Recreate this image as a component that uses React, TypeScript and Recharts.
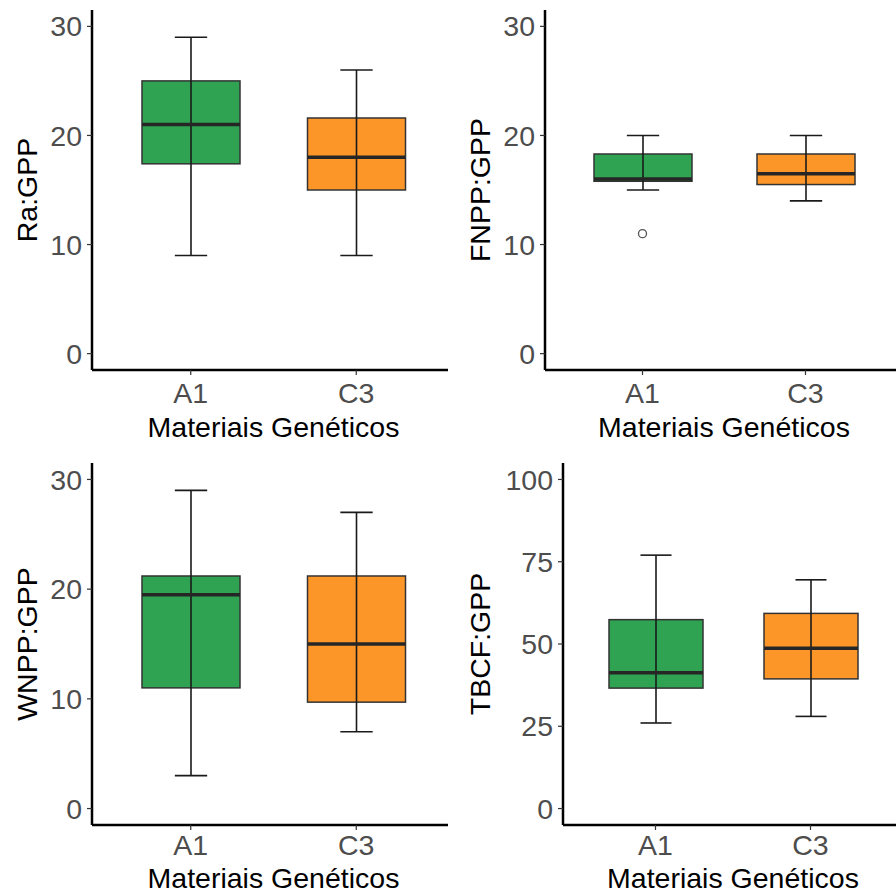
import React from "react";
import { ComposedChart, Bar, Scatter, XAxis, YAxis } from "recharts";

const groups = ["A1", "C3"];
const fills = ["#2fa352", "#fd9629"];

// five-number summaries per group: min, q1, median, q3, max
const raA1 = [9, 17.4, 21, 25, 29];
const raC3 = [9, 15, 18, 21.6, 26];
const fnppA1 = [15, 15.8, 16, 18.3, 20];
const fnppC3 = [14, 15.5, 16.5, 18.3, 20];
const fnppOut = [{ name: "A1", value: 11 }];
const wnppA1 = [3, 11, 19.5, 21.2, 29];
const wnppC3 = [7, 9.7, 15, 21.2, 27];
const tbcfA1 = [26, 36.6, 41.3, 57.4, 77];
const tbcfC3 = [28, 39.4, 48.7, 59.3, 69.5];

const ticks30 = [0, 10, 20, 30];
const ticks100 = [0, 25, 50, 75, 100];

const font = "'Liberation Sans', Arial, sans-serif";
const fs = 28.5;

function toRows(a1: number[], c3: number[]) {
  return groups.map((g, i) => {
    const s = i === 0 ? a1 : c3;
    return { name: g, range: [s[0], s[4]], q1: s[1], median: s[2], q3: s[3] };
  });
}

function BoxShape(props: any) {
  const { x, y, width, height, payload, index } = props;
  const [lo, hi] = payload.range;
  const toY = (v: number) => y + ((hi - v) / (hi - lo)) * height;
  const cx = x + width / 2;
  const cap = width * 0.33;
  const yq1 = toY(payload.q1);
  const yq3 = toY(payload.q3);
  const ymed = toY(payload.median);
  return (
    <g>
      <rect x={x} y={yq3} width={width} height={yq1 - yq3} fill={fills[index]} stroke="#333" strokeWidth={1.5} />
      <line x1={cx} x2={cx} y1={y} y2={y + height} stroke="#1a1a1a" strokeWidth={1.6} />
      <line x1={x} x2={x + width} y1={ymed} y2={ymed} stroke="#262626" strokeWidth={3.5} />
      <line x1={cx - cap / 2} x2={cx + cap / 2} y1={y} y2={y} stroke="#1a1a1a" strokeWidth={1.6} />
      <line x1={cx - cap / 2} x2={cx + cap / 2} y1={y + height} y2={y + height} stroke="#1a1a1a" strokeWidth={1.6} />
    </g>
  );
}

function OutlierDot(props: any) {
  const { cx, cy } = props;
  return <circle cx={cx} cy={cy} r={4} fill="#fff" stroke="#555" strokeWidth={1.3} />;
}

type PanelProps = {
  rows: any[];
  outliers?: any[];
  yLabel: string;
  domain: [number, number];
  ticks: number[];
  left: number;
  top: number;
  boxH: number;
  chartW: number;
  chartH: number;
  axisX: number;
  plotTop: number;
  plotBottom: number;
  pad: number;
  barSize: number;
  labelX: number;
  tickGap: number;
  titleOffset: number;
};

function Panel(p: PanelProps) {
  return (
    <div style={{ position: "absolute", left: p.left, top: p.top, width: 448, height: p.boxH, overflow: "hidden" }}>
      <ComposedChart
        width={p.chartW}
        height={p.chartH}
        data={p.rows}
        margin={{ top: p.plotTop, right: p.chartW - 455, bottom: 0, left: 0 }}
        style={{ fontFamily: font }}
      >
        <XAxis
          dataKey="name"
          allowDuplicatedCategory={false}
          height={p.chartH - p.plotBottom}
          padding={{ left: p.pad, right: p.pad }}
          axisLine={{ stroke: "#000", strokeWidth: 2.5 }}
          tickLine={{ stroke: "#333", strokeWidth: 1.2 }}
          tickSize={5}
          tickMargin={p.tickGap}
          tick={{ fill: "#4d4d4d", fontSize: fs }}
          label={{ value: "Materiais Genéticos", position: "insideBottom", offset: p.titleOffset, fill: "#000", fontSize: fs }}
        />
        <YAxis
          type="number"
          domain={p.domain}
          ticks={p.ticks}
          allowDataOverflow
          width={p.axisX}
          axisLine={{ stroke: "#000", strokeWidth: 2.5 }}
          tickLine={{ stroke: "#333", strokeWidth: 1.2 }}
          tickSize={5}
          tickMargin={5}
          tick={{ fill: "#4d4d4d", fontSize: fs }}
          label={{
            value: p.yLabel,
            angle: -90,
            position: "insideLeft",
            offset: p.labelX,
            fill: "#000",
            fontSize: fs,
            style: { textAnchor: "middle" },
          }}
        />
        <Bar dataKey="range" barSize={p.barSize} shape={<BoxShape />} isAnimationActive={false} />
        {p.outliers && (
          <Scatter data={p.outliers} dataKey="value" shape={<OutlierDot />} isAnimationActive={false} />
        )}
      </ComposedChart>
    </div>
  );
}

export default function App() {
  return (
    <div style={{ position: "absolute", left: 0, top: 0, width: 896, height: 895, background: "#fff", overflow: "hidden" }}>
      <Panel
        rows={toRows(raA1, raC3)}
        yLabel="Ra:GPP"
        domain={[-1.5, 31.5]}
        ticks={ticks30}
        left={0}
        top={0}
        boxH={448}
        chartW={460}
        chartH={448}
        axisX={92}
        plotTop={10}
        plotBottom={370}
        pad={16}
        barSize={98}
        labelX={27}
        tickGap={8}
        titleOffset={11}
      />
      <Panel
        rows={toRows(fnppA1, fnppC3)}
        outliers={fnppOut}
        yLabel="FNPP:GPP"
        domain={[-1.5, 31.5]}
        ticks={ticks30}
        left={448}
        top={0}
        boxH={448}
        chartW={460}
        chartH={448}
        axisX={97}
        plotTop={10}
        plotBottom={370}
        pad={16}
        barSize={98}
        labelX={32}
        tickGap={8}
        titleOffset={11}
      />
      <Panel
        rows={toRows(wnppA1, wnppC3)}
        yLabel="WNPP:GPP"
        domain={[-1.5, 31.5]}
        ticks={ticks30}
        left={0}
        top={448}
        boxH={447}
        chartW={460}
        chartH={460}
        axisX={92}
        plotTop={15}
        plotBottom={377}
        pad={16}
        barSize={98}
        labelX={27}
        tickGap={5}
        titleOffset={20}
      />
      <Panel
        rows={toRows(tbcfA1, tbcfC3)}
        yLabel="TBCF:GPP"
        domain={[-5, 105]}
        ticks={ticks100}
        left={448}
        top={448}
        boxH={447}
        chartW={460}
        chartH={460}
        axisX={115}
        plotTop={15}
        plotBottom={377}
        pad={15}
        barSize={94}
        labelX={32}
        tickGap={5}
        titleOffset={20}
      />
    </div>
  );
}
